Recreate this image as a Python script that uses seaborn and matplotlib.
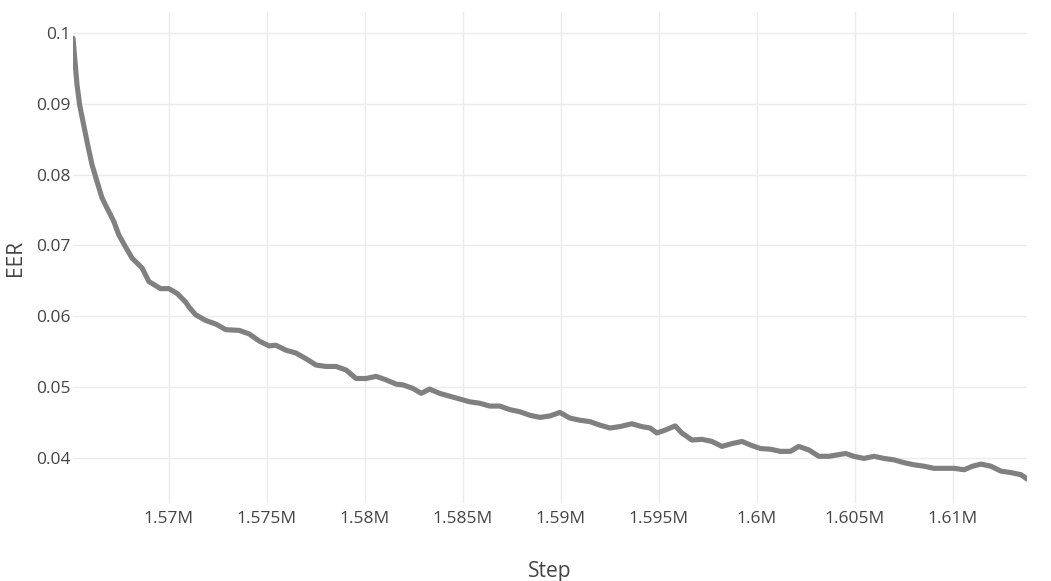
import numpy as np
import pandas as pd
import matplotlib
matplotlib.use("Agg")
import matplotlib.pyplot as plt
import seaborn as sns
from matplotlib.ticker import FuncFormatter, MultipleLocator

# EER values, by training step
steps = [
    1565105, 1565310, 1565448, 1565652, 1565857, 1566077, 1566281, 1566588,
    1566931, 1567187, 1567442, 1567785, 1568123, 1568634, 1568977, 1569575,
    1570000, 1570425, 1570854, 1571023, 1571366, 1571877, 1572389, 1572900,
    1573581, 1574092, 1574604, 1575115, 1575458, 1575969, 1576481, 1576992,
    1577504, 1578015, 1578527, 1579038, 1579550, 1580061, 1580573, 1581084,
    1581596, 1581933, 1582445, 1582874, 1583299, 1583811, 1584322, 1584834,
    1585345, 1585857, 1586368, 1586880, 1587391, 1587903, 1588414, 1588926,
    1589437, 1589949, 1590460, 1590972, 1591483, 1591995, 1592506, 1593018,
    1593616, 1594127, 1594552, 1594895, 1595319, 1595831, 1596173, 1596685,
    1597196, 1597708, 1598219, 1598731, 1599242, 1599667, 1600179, 1600690,
    1601202, 1601713, 1602138, 1602650, 1603161, 1603672, 1604526, 1604951,
    1605462, 1605974, 1606485, 1606997, 1607508, 1608020, 1608531, 1609043,
    1609554, 1610066, 1610577, 1611007, 1611432, 1611943, 1612455, 1612966,
    1613478, 1613784,
]
eer = [
    0.0993, 0.0927, 0.0898, 0.0870, 0.0842, 0.0814, 0.0795, 0.0767,
    0.0748, 0.0734, 0.0715, 0.0698, 0.0682, 0.0668, 0.0649, 0.0639,
    0.0639, 0.0632, 0.0620, 0.0613, 0.0602, 0.0594, 0.0589, 0.0581,
    0.0580, 0.0575, 0.0565, 0.0558, 0.0559, 0.0552, 0.0548, 0.0540,
    0.0531, 0.0529, 0.0529, 0.0524, 0.0512, 0.0512, 0.0515, 0.0510,
    0.0504, 0.0503, 0.0498, 0.0491, 0.0497, 0.0491, 0.0487, 0.0483,
    0.0479, 0.0477, 0.0473, 0.0473, 0.0468, 0.0465, 0.0460, 0.0457,
    0.0459, 0.0464, 0.0456, 0.0453, 0.0451, 0.0446, 0.0442, 0.0444,
    0.0448, 0.0444, 0.0442, 0.0435, 0.0439, 0.0445, 0.0435, 0.0425,
    0.0426, 0.0423, 0.0416, 0.0420, 0.0423, 0.0418, 0.0413, 0.0412,
    0.0409, 0.0409, 0.0416, 0.0411, 0.0402, 0.0402, 0.0406, 0.0402,
    0.0399, 0.0402, 0.0399, 0.0397, 0.0393, 0.0390, 0.0388, 0.0385,
    0.0385, 0.0385, 0.0383, 0.0388, 0.0391, 0.0388, 0.0381, 0.0379,
    0.0376, 0.0370,
]

df = pd.DataFrame({"Step": steps, "EER": eer})

sns.set_style("whitegrid")
plt.rcParams["font.family"] = ["Open Sans", "DejaVu Sans"]

fig = plt.figure(figsize=(10.51, 5.81), dpi=100)
ax = fig.add_axes([73 / 1051, 1 - 503 / 581, (1027 - 73) / 1051, (503 - 12) / 581])

sns.lineplot(data=df, x="Step", y="EER", ax=ax, color="#808080", linewidth=3.7)

ax.set_xlim(steps[0], steps[-1])
ax.set_ylim(0.0336, 0.103)
ax.xaxis.set_major_locator(MultipleLocator(5000))
ax.yaxis.set_major_locator(MultipleLocator(0.01))
ax.xaxis.set_major_formatter(FuncFormatter(lambda v, p: f"{v / 1e6:g}M"))
ax.yaxis.set_major_formatter(FuncFormatter(lambda v, p: f"{v:g}"))

ax.grid(True, color="#ebebeb", linewidth=1.0)
for s in ax.spines.values():
    s.set_visible(False)
ax.tick_params(axis="both", length=0, labelsize=12.5, colors="#444444")
ax.tick_params(axis="x", pad=6)
ax.tick_params(axis="y", pad=2)

ax.set_xlabel("Step", fontsize=15, color="#444444", labelpad=24)
ax.set_ylabel("EER", fontsize=15, color="#444444", labelpad=7)

fig.savefig("out.png", dpi=100)
